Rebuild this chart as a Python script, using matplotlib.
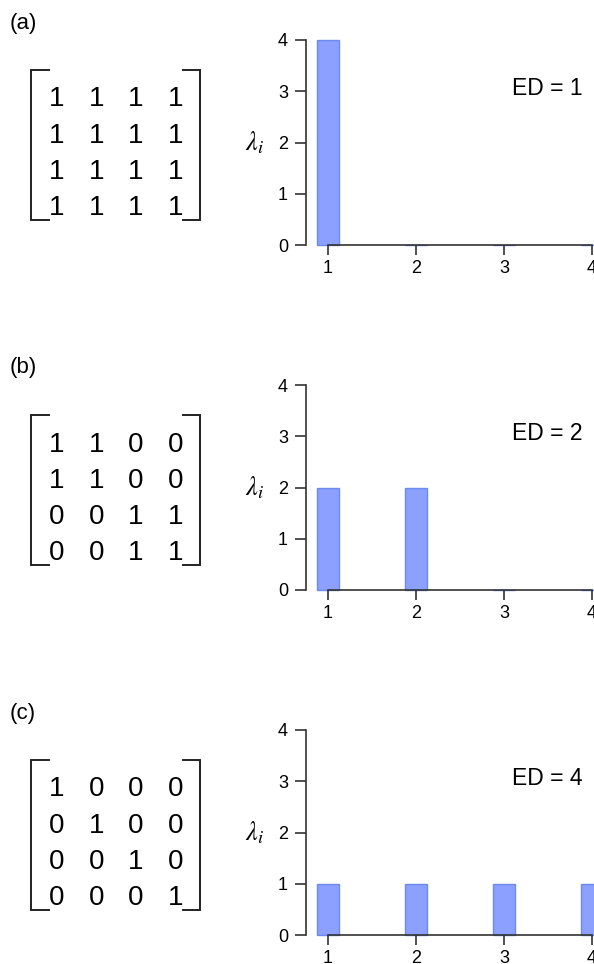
import matplotlib
matplotlib.use('Agg')
import matplotlib.pyplot as plt
from matplotlib.transforms import blended_transform_factory

plt.rcParams['font.family'] = ['Liberation Sans', 'DejaVu Sans']
plt.rcParams['mathtext.fontset'] = 'stix'

panel_labels = ['(a)', '(b)', '(c)']
matrix_a = [[1, 1, 1, 1], [1, 1, 1, 1], [1, 1, 1, 1], [1, 1, 1, 1]]
matrix_b = [[1, 1, 0, 0], [1, 1, 0, 0], [0, 0, 1, 1], [0, 0, 1, 1]]
matrix_c = [[1, 0, 0, 0], [0, 1, 0, 0], [0, 0, 1, 0], [0, 0, 0, 1]]
matrices = [matrix_a, matrix_b, matrix_c]
eig_index = [1, 2, 3, 4]
eig_a = [4, 0, 0, 0]
eig_b = [2, 2, 0, 0]
eig_c = [1, 1, 1, 1]
eigenvalues = [eig_a, eig_b, eig_c]
ed_values = [1, 2, 4]
ytick_vals = [0, 1, 2, 3, 4]

W, H = 594, 964
fig = plt.figure(figsize=(W / 100, H / 100), dpi=100)


def rect(x0, y0, x1, y1):
    return [x0 / W, 1 - y1 / H, (x1 - x0) / W, (y1 - y0) / H]


row_step = 345
axis_col = '#333333'
for r in range(3):
    off = r * row_step
    fig.text(10 / W, 1 - (23 + off) / H, panel_labels[r], fontsize=16,
             va='center', ha='left')

    # matrix (local pixel coordinates)
    mx = fig.add_axes(rect(0, 60 + off, 230, 230 + off))
    mx.set_xlim(0, 230)
    mx.set_ylim(170, 0)
    mx.axis('off')
    mat = matrices[r]
    for i, row in enumerate(mat):
        for j, v in enumerate(row):
            mx.text(57 + 39.4 * j, 46.5 + 36.2 * i, str(v), fontsize=20,
                    ha='center', va='baseline')
    top, bot = 10, 160
    for xb, xs in [(31, 49), (200, 183)]:
        mx.plot([xs, xb, xb, xs], [top, top, bot, bot], color='#222222',
                lw=1.4, solid_joinstyle='miter', clip_on=False)

    # bar chart
    ax = fig.add_axes(rect(306, 40 + off, 620, 245 + off))
    ax.bar(eig_index, eigenvalues[r], width=0.25, color='#8ca0ff',
           edgecolor='#6a8af0', linewidth=1.0, clip_on=False, zorder=1)
    ax.set_xlim(0.75, 0.75 + 314 / 88)
    ax.set_ylim(0, 4)
    for s in ['top', 'right']:
        ax.spines[s].set_visible(False)
    ax.spines['left'].set_bounds(0, 4)
    ax.spines['bottom'].set_bounds(1, 4)
    for s in ['left', 'bottom']:
        ax.spines[s].set_color(axis_col)
        ax.spines[s].set_linewidth(1.2)
        ax.spines[s].set_zorder(3)
    ax.set_xticks(eig_index)
    ax.set_yticks(ytick_vals)
    ax.tick_params(axis='y', length=8, width=1.2, color=axis_col,
                   labelsize=13, pad=5)
    ax.tick_params(axis='x', length=7, width=1.2, color=axis_col,
                   labelsize=13, pad=3.5)
    tr = blended_transform_factory(ax.transAxes, ax.transData)
    ax.text(-0.162, 2, r'$\lambda_i$', transform=tr, fontsize=19,
            ha='center', va='center')
    ax.text(3.09, 3.05, f'ED = {ed_values[r]}', fontsize=16.5,
            ha='left', va='center')

fig.savefig('out.png', dpi=100)
